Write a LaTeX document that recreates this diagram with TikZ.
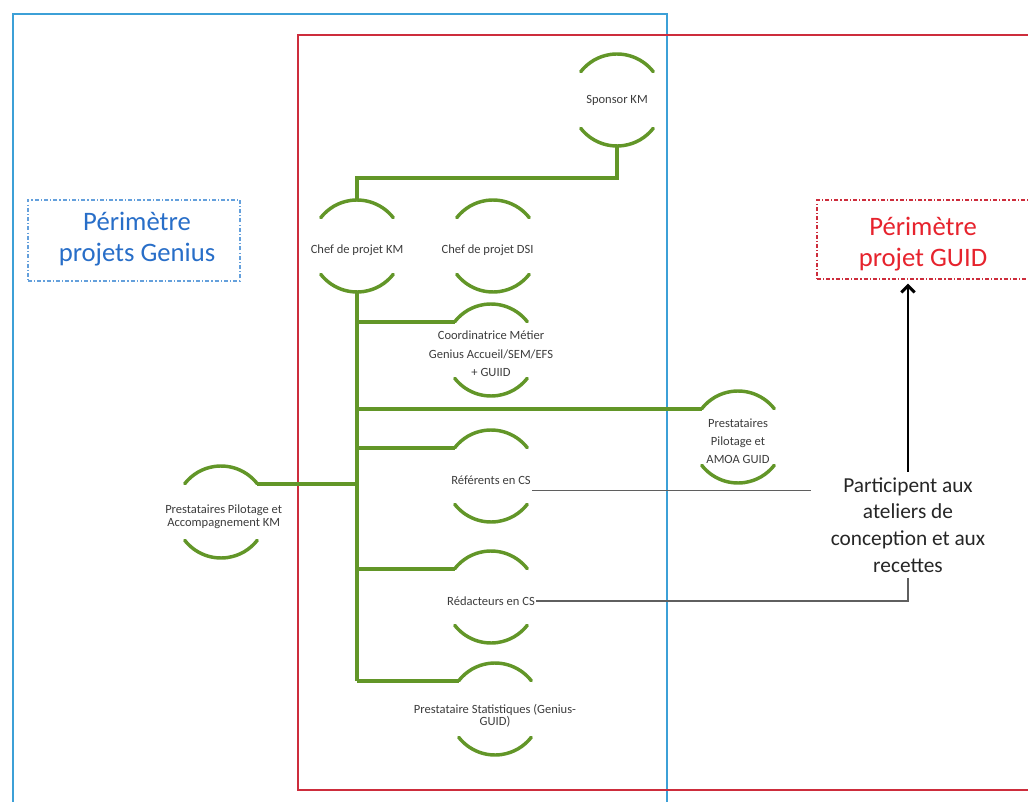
\documentclass[tikz,border=0pt]{standalone}
\usepackage{fontspec}
\setmainfont{Carlito}
\usetikzlibrary{arrows.meta,calc}
\definecolor{grn}{RGB}{98,150,40}
\definecolor{txt}{RGB}{60,60,60}
\definecolor{bluerect}{RGB}{60,160,215}
\definecolor{redrect}{RGB}{205,45,60}
\definecolor{bluetxt}{RGB}{40,110,200}
\definecolor{blueb}{RGB}{100,160,220}
\definecolor{redtxt}{RGB}{230,35,45}
\definecolor{greyl}{RGB}{95,95,95}
\newcommand\twoarcs[1]{%
  \draw[arcl] (#1.38) arc[start angle=38,end angle=142,radius=34.5pt];
  \draw[arcl] (#1.218) arc[start angle=218,end angle=322,radius=34.5pt];}
\begin{document}
\begin{tikzpicture}[x=0.75pt,y=0.75pt,
  pers/.style={circle,draw=none,minimum size=69pt,inner sep=0pt,outer sep=0pt},
  lbl/.style={font=\fontsize{9.4}{14}\selectfont,text=txt,align=center,inner sep=1pt},
  arcl/.style={draw=grn,line width=2.6pt,line cap=round},
  link/.style={draw=grn,line width=3pt},
  gl/.style={draw=greyl,line width=1.2pt},
  perim/.style={dash pattern=on 3pt off 1.6pt on 0.8pt off 1.6pt,line width=1.3pt,inner sep=0pt}
]
\useasboundingbox (0,0) rectangle (1028,801);
\clip (0,0) rectangle (1028,801);
% frames
\draw[bluerect,line width=1.5pt] (13,-20) rectangle (667,787);
\draw[redrect,line width=1.5pt] (298,11) rectangle (1050,766);
% perimeter boxes
\node[perim,draw=blueb,minimum width=159pt,minimum height=61pt] (genius) at (134,560.5) {};
\node[font=\fontsize{20}{23}\selectfont,text=bluetxt,align=center] (genius-t) at (137,562) {Périmètre\\projets Genius};
\node[perim,draw=redrect,minimum width=171pt,minimum height=59pt] (guid) at (931,561.5) {};
\node[font=\fontsize{20}{23}\selectfont,text=redtxt,align=center] (guid-t) at (923,557) {Périmètre\\projet GUID};
% persons
\node[pers] (spon) at (617,701) {};
\node[pers] (chefkm) at (357,555) {};
\node[pers] (dsi) at (493,555) {};
\node[pers] (coord) at (491,451) {};
\node[pers] (amoa) at (738,364) {};
\node[pers] (ref) at (491,325) {};
\node[pers] (pilkm) at (221,289) {};
\node[pers] (red) at (491,204) {};
\node[pers] (stat) at (495,92) {};
\foreach \n in {spon,chefkm,dsi,coord,amoa,ref,pilkm,red,stat}{\twoarcs{\n}}
\node[lbl] (spon-t) at (spon.center) {Sponsor KM};
\node[lbl] (chefkm-t) at ([yshift=-3pt]chefkm.center) {Chef de projet KM};
\node[lbl] (dsi-t) at ([yshift=-3pt,xshift=-4pt]dsi.center) {Chef de projet DSI};
\node[lbl] (coord-t) at ([yshift=-3pt]coord.center) {Coordinatrice Métier\\Genius Accueil/SEM/EFS\\+ GUIID};
\node[lbl,font=\fontsize{9.4}{13.5}\selectfont] (amoa-t) at ([yshift=-3pt]amoa.center) {Prestataires\\Pilotage et\\AMOA GUID};
\node[lbl] (ref-t) at ([yshift=-3.5pt]ref.center) {Référents en CS};
\node[lbl,font=\fontsize{9.4}{10}\selectfont] (pilkm-t) at ([yshift=-3.5pt,xshift=2pt]pilkm.center) {Prestataires Pilotage et\\Accompagnement KM};
\node[lbl] (red-t) at ([yshift=-3pt]red.center) {Rédacteurs en CS};
\node[lbl,font=\fontsize{9.4}{9.5}\selectfont] (stat-t) at ([yshift=-5pt]stat.center) {Prestataire Statistiques (Genius-\\GUID)};
% participant text
\node[font=\fontsize{16}{20}\selectfont,text=black!85,align=center,inner sep=4pt] (partic) at (908,276) {Participent aux\\ateliers de\\conception et aux\\recettes};
% green connectors
\draw[link] (spon.south) -- ++(0,-32) -| (chefkm.north);
\draw[link] (chefkm.south) -- (chefkm.south |- stat.142);
\draw[link] (chefkm.south |- coord.142) -- (coord.142);
\draw[link] (chefkm.south |- amoa.142) -- (amoa.142);
\draw[link] (chefkm.south |- ref.142) -- (ref.142);
\draw[link] (chefkm.south |- red.142) -- (red.142);
\draw[link] (chefkm.south |- stat.142) -- (stat.142);
\draw[link] (pilkm.38) -- (pilkm.38 -| chefkm.south);
% grey connectors
\draw[gl,shorten >=11pt] ([yshift=-3pt]ref-t.south east) -- ([yshift=-3pt]ref-t.south east -| partic.west);
\draw[gl] (red-t.east) -| (partic.south);
\draw[line width=1.4pt,-{Straight Barb[length=5pt,width=10pt,line width=2.2pt]},shorten >=3pt] (partic.north) -- (partic.north |- guid.south);
\end{tikzpicture}
\end{document}
